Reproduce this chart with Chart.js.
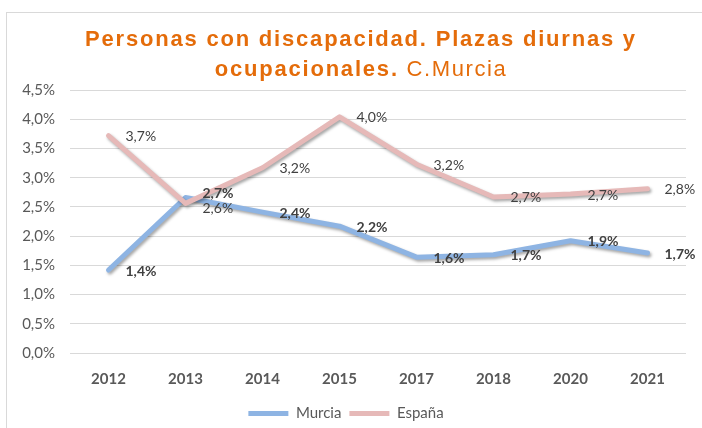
<!DOCTYPE html>
<html>
<head>
<meta charset="utf-8">
<script src="https://cdn.jsdelivr.net/npm/chart.js@4/dist/chart.umd.min.js"></script>
<style>
    html, body { margin: 0; padding: 0; background: #ffffff; }
    #wrap { position: relative; width: 702px; height: 428px; overflow: hidden; }
    #frame {
        position: absolute; left: 6px; top: 12px; width: 720px; height: 440px;
        border: 1px solid #d9d9d9; box-sizing: border-box;
    }
    #title {
        position: absolute; left: 0; top: 24px; width: 722px; text-align: center;
        font-family: "Liberation Sans", Arial, sans-serif; font-size: 22px; line-height: 30px;
        color: #e46c0a; letter-spacing: 1.8px;
    }
    #title b { font-weight: bold; }
    #title span { font-weight: normal; letter-spacing: 1.6px; }
    #chart { position: absolute; left: 0; top: 0; }
</style>
</head>
<body>
<div id="wrap">
    <div id="frame"></div>
    <canvas id="chart" width="702" height="428"></canvas>
    <div id="title"><b>Personas con discapacidad. Plazas diurnas y</b><br><b>ocupacionales.</b><span> C.Murcia</span></div>
</div>
<script>
// Data (percent)
const years = ['2012', '2013', '2014', '2015', '2017', '2018', '2020', '2021'];
const murcia = [1.42, 2.66, 2.41, 2.17, 1.64, 1.68, 1.92, 1.71];
const espana = [3.72, 2.56, 3.17, 4.04, 3.23, 2.67, 2.72, 2.81];

const labelFont = 'Lato, "Open Sans", sans-serif';
const textGrey = '#595959';
const fmt = v => v.toFixed(1).replace('.', ',') + '%';

// -----------------------------
// Soft shadow under the lines
// -----------------------------
const lineShadow = {
    id: 'lineShadow',
    beforeDatasetsDraw(chart) {
        const ctx = chart.ctx;
        ctx.save();
        ctx.shadowColor = 'rgba(0, 0, 0, 0.35)';
        ctx.shadowBlur = 3;
        ctx.shadowOffsetX = 1.5;
        ctx.shadowOffsetY = 2;
    },
    afterDatasetsDraw(chart) {
        chart.ctx.restore();
    }
};

// -----------------------------
// Data labels to the right of each point
// -----------------------------
const pointLabels = {
    id: 'pointLabels',
    afterDatasetsDraw(chart) {
        const ctx = chart.ctx;
        const metas = chart.data.datasets.map((ds, i) => chart.getDatasetMeta(i));
        years.forEach((y, idx) => {
            const items = chart.data.datasets.map((ds, i) => ({
                ds: ds,
                x: metas[i].data[idx].x,
                y: metas[i].data[idx].y
            }));
            // push apart labels that would overlap
            if (items.length === 2 && Math.abs(items[0].y - items[1].y) < 15) {
                const mid = (items[0].y + items[1].y) / 2;
                const up = items[0].y <= items[1].y ? 0 : 1;
                items[up].y = mid - 7.5;
                items[1 - up].y = mid + 7.5;
            }
            items.forEach(it => {
                ctx.save();
                ctx.font = (it.ds.labelBold ? 'bold ' : '') + '14px ' + labelFont;
                ctx.fillStyle = '#404040';
                ctx.textAlign = 'left';
                ctx.textBaseline = 'middle';
                ctx.fillText(fmt(it.ds.data[idx]), it.x + 17, it.y + 1);
                ctx.restore();
            });
        });
    }
};

new Chart(document.getElementById('chart'), {
    type: 'line',
    data: {
        labels: years,
        datasets: [
            {
                label: 'Murcia',
                data: murcia,
                borderColor: '#8eb4e3',
                backgroundColor: '#8eb4e3',
                borderWidth: 5,
                borderCapStyle: 'round',
                borderJoinStyle: 'round',
                pointRadius: 0,
                tension: 0,
                order: 1,
                labelBold: true
            },
            {
                label: 'España',
                data: espana,
                borderColor: '#e6b9b8',
                backgroundColor: '#e6b9b8',
                borderWidth: 5,
                borderCapStyle: 'round',
                borderJoinStyle: 'round',
                pointRadius: 0,
                tension: 0,
                order: 0,
                labelBold: false
            }
        ]
    },
    options: {
        responsive: false,
        animation: false,
        layout: { padding: { top: 90, left: 6, right: 16, bottom: -3 } },
        plugins: {
            title: { display: false },
            tooltip: { enabled: false },
            legend: {
                position: 'bottom',
                labels: {
                    color: textGrey,
                    font: { family: labelFont, size: 15 },
                    boxWidth: 40,
                    boxHeight: 5,
                    padding: 8,
                    generateLabels(chart) {
                        return chart.data.datasets.map((ds, i) => ({
                            text: ds.label,
                            fillStyle: ds.borderColor,
                            strokeStyle: ds.borderColor,
                            lineWidth: 0,
                            fontColor: textGrey,
                            datasetIndex: i
                        }));
                    }
                }
            }
        },
        scales: {
            x: {
                offset: true,
                grid: { display: false },
                border: { display: false },
                ticks: {
                    color: textGrey,
                    padding: 9,
                    font: { family: labelFont, size: 15, weight: 'bold' }
                },
                afterFit(scale) { scale.height = 45; }
            },
            y: {
                min: 0,
                max: 4.5,
                grid: { color: '#d9d9d9', drawTicks: false },
                border: { display: false },
                ticks: {
                    stepSize: 0.5,
                    color: textGrey,
                    padding: 15,
                    font: { family: labelFont, size: 15 },
                    callback: v => fmt(v)
                },
                afterFit(scale) { scale.width = 64; }
            }
        }
    },
    plugins: [lineShadow, pointLabels]
});
</script>
</body>
</html>
